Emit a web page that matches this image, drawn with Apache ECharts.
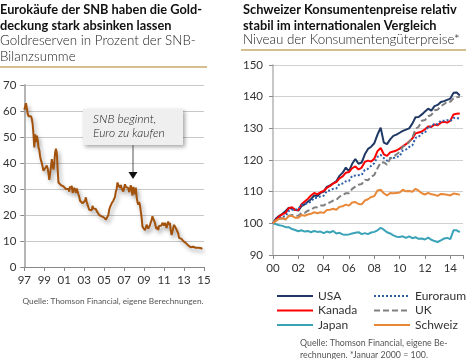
<!DOCTYPE html>
<html><head><meta charset="utf-8">
<script src="https://cdn.jsdelivr.net/npm/echarts@6/dist/echarts.min.js"></script>
<style>html,body{margin:0;padding:0;background:#fff}#c{width:466px;height:359px}</style>
</head><body><div id="c"></div>
<script>
// ---------- Left chart: gold share, monthly from Jan 1997 ----------
const goldStartYear = 1997;
const goldShare = [
 60.5,60,63,61,59,58,58.5,57.5,58,57,55,51,
 46,51,48,50.5,49,46,45,42.5,41,40,38.5,37,
 36.5,38,37.5,39,38,36,33.5,36,38.5,41.5,39,37.5,
 40,44,45.5,44,38,32.5,32,32,31.5,31.8,31.5,31,
 30.8,31.5,30,30.5,29.8,30,29,31,30.2,31.2,28.5,28,
 30.5,29.5,28.5,30.2,29.5,28,27,25.5,25,25.5,24.5,24.3,
 24.8,25.5,26.8,25,24,23,22,21.5,22.5,21.8,23.5,22.5,
 22.8,22,22.3,21.5,21.8,21,20,20.2,19.7,19.5,19.3,19.2,
 19,18.8,18.2,17.8,18.5,20,22,23,22.5,24.5,24,25.5,
 25,27,29,30,32.5,31.5,31,30.5,31.5,30.2,29.5,29,
 30.5,31.8,30.8,31.5,31,30.3,28.8,30,31.5,29.5,27.5,30.8,
 31,28,30.5,27,25,24,25,23.8,24,19,15.5,14.8,
 15,14.2,15,16.3,15.8,14.8,15.5,16,17.2,18,19.5,19.8,
 19,17,15.5,14.5,15.5,14.2,15.8,16.5,15.2,16,17,16.5,
 16,17,16,15,16.5,17.5,16.2,17,14,12.3,13.5,15,
 16.2,15.8,15,15.6,15.2,13,11.2,10.8,10.5,10.8,10.2,10,
 10.3,9.6,9.3,9,8.8,8.3,8.5,8,7.6,7.8,7.4,7.8,
 7.5,7.7,7.4,7.6,7.2,7.4,7.3,7.1,7.3,7.2,7
];
const goldYTicks = [0,10,20,30,40,50,60,70];

// ---------- Right chart: consumer prices, quarterly from Q1 2000 ----------
const cpiStartYear = 2000;
const cpiNames = ['USA','Kanada','Japan','Euroraum','UK','Schweiz'];
const usa = [100,101.6,102.4,103.0,103.9,104.9,104.6,104.3,104.0,105.4,106.0,106.8,107.6,108.8,108.6,109.6,110.0,111.5,112.0,112.6,113.3,115.0,116.0,117.6,116.5,118.8,120.3,118.8,119.2,121.8,123.5,124.2,125.3,128.0,130.2,125.5,125.0,126.5,127.6,128.0,128.6,129.2,129.6,130.0,131.5,133.5,133.6,134.4,135.3,136.2,135.6,137.0,137.4,138.3,138.6,139.0,139.4,141.2,141.3,140.4];
const kanada = [100,101.2,102.2,102.9,103.3,104.8,105.1,104.2,104.2,106.0,106.9,107.7,108.8,109.6,109.2,109.8,110.2,111.2,111.8,112.6,113.0,114.2,114.8,116.0,116.2,117.4,118.0,117.0,117.6,119.4,119.8,119.5,120.4,122.8,123.8,121.8,121.3,122.4,122.7,123.0,123.6,124.3,125.0,125.8,126.8,128.4,128.7,129.0,129.7,130.6,130.4,131.2,131.0,131.8,132.1,131.8,132.4,134.4,134.6,134.7];
const japan = [100,99.7,99.4,99.2,98.8,98.8,98.2,97.9,97.5,97.8,97.4,97.6,97.2,97.6,97.3,97.4,96.9,97.4,97.1,97.6,96.8,97.0,96.5,96.4,96.5,96.8,97.0,97.2,96.6,96.9,96.6,97.1,97.3,97.8,98.6,98.0,97.2,96.8,96.2,95.8,95.7,95.9,95.4,95.9,95.3,95.6,95.1,95.2,94.9,95.5,94.8,94.4,94.1,94.6,95.2,95.4,95.0,97.8,97.8,97.2];
const euroraum = [100,100.9,101.6,102.1,102.3,104.0,104.3,104.2,104.6,105.9,106.0,106.4,106.8,108.0,108.1,108.5,108.7,110.2,110.4,110.9,111.0,112.4,112.6,113.3,113.4,115.0,115.1,115.2,115.3,116.9,117.2,118.2,119.0,121.0,121.6,120.6,119.8,120.6,120.6,121.0,121.2,123.0,123.3,124.1,124.6,127.0,127.3,128.4,128.6,130.6,130.6,131.5,131.3,132.4,132.4,132.6,132.3,133.3,133.3,133.0];
const uk = [100,100.9,101.3,101.6,101.2,102.4,102.6,102.4,102.4,103.3,103.3,104.0,104.2,105.0,105.1,105.6,105.6,106.4,106.6,107.2,107.4,108.4,109.0,109.5,109.5,110.9,111.6,112.2,112.4,113.8,113.6,114.7,115.3,117.4,119.2,119.3,118.5,120.4,121.0,121.8,122.5,124.2,124.7,125.7,127.0,129.8,130.5,132.4,132.6,133.8,134.2,135.7,135.9,137.0,137.6,138.5,138.4,139.5,139.8,140.0];
const schweiz = [100,100.9,101.4,101.6,101.3,102.3,102.3,101.8,101.8,102.6,102.4,102.8,103.0,103.5,103.2,103.5,103.3,104.2,104.3,104.6,104.3,105.2,105.4,105.9,105.6,106.6,106.7,106.1,106.0,107.2,107.6,108.3,108.6,110.4,110.6,109.5,108.8,109.6,109.5,109.6,109.7,110.6,110.1,110.2,110.0,110.9,110.3,109.5,109.1,109.6,109.2,109.0,108.7,109.3,109.2,109.0,108.8,109.4,109.3,109.0];
const cpiYTicks = [90,100,110,120,130,140,150];

const FONT = 'Lato, "Open Sans", sans-serif';
const goldData = goldShare.map((v,i)=>[i/12, v]);
const q = arr => arr.map((v,i)=>[cpiStartYear + i/4, v]);

const styles = {
  USA:{color:'#1f3864', type:'solid'},
  Kanada:{color:'#ff0000', type:'solid'},
  Japan:{color:'#3ba3b8', type:'solid'},
  Euroraum:{color:'#2f5fa8', type:'dotted'},
  UK:{color:'#808080', type:[6,3]},
  Schweiz:{color:'#e8893a', type:'solid'}
};
const cpiSeriesData = {USA:usa, Kanada:kanada, Japan:japan, Euroraum:euroraum, UK:uk, Schweiz:schweiz};

const chart = echarts.init(document.getElementById('c'), null, {renderer:'canvas'});

const axisLabelStyle = {color:'#333', fontSize:11.5, fontFamily:FONT};
const legendCommon = {orient:'vertical', padding:0, itemWidth:36, itemHeight:12, itemGap:2.5,
  itemStyle:{opacity:0}, textStyle:{color:'#333', fontSize:12, fontFamily:FONT}};

const option = {
  animation:false,
  textStyle:{fontFamily:FONT},
  grid:[
    {left:24, top:85, width:180, height:182, containLabel:false},
    {left:273, top:65, right:0, height:190, containLabel:false}
  ],
  xAxis:[
    {gridIndex:0, type:'value', min:0, max:18, interval:2,
     axisLine:{show:true, lineStyle:{color:'#888', width:1}},
     axisTick:{show:true, length:4, lineStyle:{color:'#888'}},
     splitLine:{show:false},
     axisLabel:Object.assign({margin:7, formatter:v=>String((goldStartYear+v)%100).padStart(2,'0')}, axisLabelStyle)},
    {gridIndex:1, type:'value', min:2000, max:2015, interval:2,
     axisLine:{show:true, lineStyle:{color:'#888', width:1}},
     axisTick:{show:true, length:4, lineStyle:{color:'#888'}},
     splitLine:{show:false},
     axisLabel:Object.assign({margin:7, formatter:v=> (v%2===0 ? String(v%100).padStart(2,'0') : '')}, axisLabelStyle)}
  ],
  yAxis:[
    {gridIndex:0, type:'value', min:goldYTicks[0], max:goldYTicks[goldYTicks.length-1], interval:10,
     axisLine:{show:true, lineStyle:{color:'#b5b5b5', width:2}},
     axisTick:{show:true, length:4, lineStyle:{color:'#888'}},
     splitLine:{show:true, lineStyle:{color:'#c8c8c8', width:1}},
     axisLabel:Object.assign({margin:8}, axisLabelStyle)},
    {gridIndex:1, type:'value', min:cpiYTicks[0], max:cpiYTicks[cpiYTicks.length-1], interval:10,
     axisLine:{show:true, lineStyle:{color:'#b5b5b5', width:1.5}},
     axisTick:{show:true, length:4, lineStyle:{color:'#888'}},
     splitLine:{show:true, lineStyle:{color:'#d0d0d0', width:1}},
     axisLabel:Object.assign({margin:10}, axisLabelStyle)}
  ],
  legend:[
    Object.assign({left:276, top:290, data:['USA','Kanada','Japan']}, legendCommon),
    Object.assign({left:373, top:290, data:['Euroraum','UK','Schweiz']}, legendCommon)
  ],
  series:[
    {type:'line', xAxisIndex:0, yAxisIndex:0, data:goldData, symbol:'none', silent:true,
     lineStyle:{color:'#a3520c', width:2, shadowColor:'rgba(0,0,0,0.35)', shadowBlur:4, shadowOffsetX:2, shadowOffsetY:3}}
  ].concat(cpiNames.map(n=>({
     name:n, type:'line', xAxisIndex:1, yAxisIndex:1, data:q(cpiSeriesData[n]), symbol:'none', silent:true,
     itemStyle:{color:styles[n].color},
     lineStyle:{color:styles[n].color, width:2, type:styles[n].type}
  }))),
  graphic:[
    // left header
    {type:'text', left:0, top:2, style:{text:'Eurokäufe der SNB haben die Gold-\ndeckung stark absinken lassen', font:'bold 12.8px '+FONT, fill:'#111', lineHeight:16}},
    {type:'text', left:0, top:33, style:{text:'Goldreserven in Prozent der SNB-\nBilanzsumme', font:'300 13.4px '+FONT, fill:'#222', lineHeight:16}},
    {type:'line', shape:{x1:0, y1:67, x2:207, y2:67}, style:{stroke:'#c9aa6a', lineWidth:1.5}},
    // right header
    {type:'text', left:243, top:2, style:{text:'Schweizer Konsumentenpreise relativ\nstabil im internationalen Vergleich', font:'bold 12.8px '+FONT, fill:'#111', lineHeight:16}},
    {type:'text', left:243, top:33, style:{text:'Niveau der Konsumentengüterpreise*', font:'300 13.4px '+FONT, fill:'#222'}},
    {type:'line', shape:{x1:241, y1:50, x2:466, y2:50}, style:{stroke:'#c9aa6a', lineWidth:1.5}},
    // annotation
    {type:'rect', shape:{x:83, y:109, width:100, height:36}, style:{fill:'#efefef', shadowColor:'rgba(0,0,0,0.35)', shadowBlur:4, shadowOffsetX:2, shadowOffsetY:2}, z:10},
    {type:'text', left:93, top:112, z:11, style:{text:'SNB beginnt,\nEuro zu kaufen', font:'italic 300 12px '+FONT, fill:'#222', lineHeight:14}},
    {type:'line', z:11, shape:{x1:133, y1:145, x2:133, y2:172}, style:{stroke:'#555', lineWidth:1}},
    {type:'polygon', z:11, shape:{points:[[128.5,172],[137.5,172],[133,179]]}, style:{fill:'#111'}},
    // sources
    {type:'text', x:113, y:297, style:{text:'Quelle: Thomson Financial, eigene Berechnungen.', font:'8.3px '+FONT, fill:'#555', align:'center'}},
    {type:'text', left:300, top:337, style:{text:'Quelle: Thomson Financial, eigene Be-\nrechnungen. *Januar 2000 = 100.', font:'8.8px '+FONT, fill:'#555', lineHeight:12}}
  ]
};
chart.setOption(option);
</script></body></html>
